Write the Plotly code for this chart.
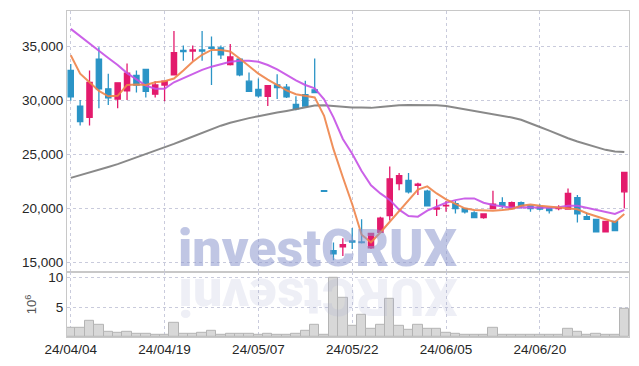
import plotly.graph_objects as go

dates = ["24/04/04","24/04/05","24/04/08","24/04/09","24/04/11","24/04/12","24/04/15","24/04/16","24/04/17","24/04/18",
         "24/04/19","24/04/22","24/04/23","24/04/24","24/04/25","24/04/26","24/04/29","24/04/30","24/05/02","24/05/03",
         "24/05/07","24/05/08","24/05/09","24/05/10","24/05/13","24/05/14","24/05/16","24/05/17","24/05/20","24/05/21",
         "24/05/22","24/05/23","24/05/24","24/05/27","24/05/28","24/05/29","24/05/30","24/05/31","24/06/03","24/06/04",
         "24/06/05","24/06/07","24/06/10","24/06/11","24/06/12","24/06/13","24/06/14","24/06/17","24/06/18","24/06/19",
         "24/06/20","24/06/21","24/06/24","24/06/25","24/06/26","24/06/27","24/06/28","24/07/01","24/07/02","24/07/03"]

open_ = [32800,29500,28450,33850,31100,30150,30900,32350,32900,30600,
         31450,32400,34650,34600,34700,34950,34900,33350,33850,31800,
         31050,30400,31450,31250,29650,30550,31000,21650,16100,16450,
         17000,16900,16350,17800,19350,22300,22600,22150,21600,19950,
         20250,20450,20000,19600,19150,20000,20550,20000,20550,20250,
         20150,20000,20000,19950,21000,19250,19000,17850,18800,21550]
high = [33400,30050,32800,34950,32500,31700,33450,32800,32900,31800,
        31850,36450,35100,35100,36450,35950,35100,35250,33850,32600,
        32050,31400,32450,31550,30400,31850,33900,21650,16850,17250,
        18200,19000,17700,19250,23900,23300,23300,22400,21750,20850,
        20700,20700,20000,19750,19500,21650,21050,20650,20650,20250,
        20400,20000,20300,21850,21250,19600,19000,18850,18800,23350]
low = [30000,27700,27700,29300,29600,29300,30050,30750,30300,30300,
       29950,32400,33700,33700,33700,31450,33850,33250,32250,30850,
       30300,29500,30150,30250,29100,29450,30750,21600,15200,15600,
       16250,16750,16250,17800,18900,21700,21400,21250,20250,19300,
       19700,19550,19550,19150,19050,20000,20000,20000,20000,19700,
       19850,19550,19850,19950,18700,19000,17850,17800,17950,20000]
close = [30350,28050,31700,31100,30250,31650,32550,31450,30850,31450,
         31800,34450,34550,34700,34600,34850,34250,34050,32400,30850,
         30450,31400,31200,30350,29250,29500,30750,21600,15800,16650,
         16900,16850,17700,19100,22750,23050,21550,22250,20250,20050,
         20300,20000,19700,19150,19500,20400,20300,20550,20250,20000,
         19950,19800,20050,21400,19500,19000,17850,18800,17950,23350]

ma_short = [34200,32500,31700,30900,30400,30450,31450,31500,31450,31700,
            31800,32050,32800,33600,34250,34700,34700,34550,33900,33200,
            32500,31950,31450,30950,30600,30450,30300,28600,25500,22900,
            20400,17570,16870,17780,18750,19750,20750,21750,22050,21400,
            20850,20400,20020,19870,19800,19800,19870,19960,20260,20380,
            20260,20170,20080,20020,19930,19560,19250,19010,18730,19500]
ma_mid = [36650,35950,35330,34630,33960,33300,32550,32000,31400,31100,
          31100,31700,32100,32450,32850,33150,33350,33600,33700,33700,
          33600,33300,32900,32380,31870,31450,31140,30130,28450,26450,
          25070,23480,22160,21400,20800,19900,19300,19250,19800,20170,
          20540,20780,20940,20940,20540,20320,20170,20080,20110,20080,
          20080,20080,20110,20260,20260,20080,19870,19680,19500,19870]
ma_long = [22840,23080,23330,23600,23850,24120,24430,24740,25010,25320,
           25650,25990,26330,26670,27000,27370,27680,27950,28200,28380,
           28560,28750,28900,29050,29210,29420,29540,29580,29510,29420,
           29360,29360,29330,29420,29510,29580,29600,29600,29580,29580,
           29510,29360,29240,29090,28930,28750,28600,28440,28230,27920,
           27560,27220,26850,26510,26210,25930,25660,25440,25290,25230]

volume = [1.55,1.55,2.67,2.07,0.9,0.73,0.9,0.57,0.57,0.4,
          0.37,2.4,0.57,0.57,0.73,1.07,0.4,0.57,0.57,0.57,
          0.4,0.57,0.4,0.4,0.57,1.07,2.07,0.3,9.95,6.6,
          1.95,3.7,1.4,2.07,6.4,1.9,1.2,2.07,1.3,1.4,
          0.73,0.57,0.4,0.4,0.4,1.55,0.4,0.3,0.3,0.4,
          0.3,0.3,0.4,1.3,0.9,0.4,0.57,0.4,0.3,4.7]

price_ticks = [15000, 20000, 25000, 30000, 35000]
vol_ticks = [5, 10]
date_ticks = dates[::10]

UP = "#e31a6c"
DOWN = "#2b94c6"
GRID = "#c9cbdc"
AXIS = "#c8c8c8"
FONT = "Liberation Sans"
TICKFONT = dict(family=FONT, size=13.5, color="#262626")

fig = go.Figure()

fig.add_trace(go.Bar(x=dates, y=volume, xaxis="x2", yaxis="y2",
                     marker=dict(color="#d8d8d8", line=dict(color="#b4b4b4", width=1)),
                     showlegend=False, hoverinfo="skip"))

fig.add_trace(go.Candlestick(x=dates, open=open_, high=high, low=low, close=close,
                             increasing=dict(line=dict(color=UP, width=1.3), fillcolor=UP),
                             decreasing=dict(line=dict(color=DOWN, width=1.3), fillcolor=DOWN),
                             whiskerwidth=0, showlegend=False, hoverinfo="skip"))

for vals, col in [(ma_long, "#7d7d7d"), (ma_mid, "#c651e6"), (ma_short, "#ef844a")]:
    fig.add_trace(go.Scatter(x=dates, y=vals, mode="lines",
                             line=dict(color=col, width=2),
                             opacity=0.9, showlegend=False, hoverinfo="skip"))

fig.add_annotation(text="investCRUX", xref="paper", yref="paper", x=0.447, y=0.27,
                   xanchor="center", yanchor="middle", showarrow=False,
                   font=dict(family="Roboto", size=52, color="rgba(140,152,205,0.55)", weight=900))
fig.add_annotation(text="XURCtsevni", xref="paper", yref="paper", x=0.447, y=0.125,
                   xanchor="center", yanchor="middle", showarrow=False, textangle=180,
                   font=dict(family="Roboto", size=52, color="rgba(170,176,210,0.2)", weight=900))

fig.update_layout(
    width=639, height=366,
    margin=dict(l=67, r=9, t=9, b=28),
    paper_bgcolor="white", plot_bgcolor="white",
    boxgap=0.2, bargap=0,
    xaxis=dict(type="category", domain=[0, 1], anchor="y", range=[-0.4, 59.5],
               rangeslider=dict(visible=False), tickmode="array", tickvals=date_ticks,
               showticklabels=False, ticks="", showgrid=True, gridcolor=GRID, griddash="dot", gridwidth=1,
               showline=True, linecolor=AXIS, linewidth=1, mirror=True, zeroline=False),
    xaxis2=dict(type="category", domain=[0, 1], anchor="y2", matches="x",
                tickmode="array", tickvals=date_ticks, ticks="", tickfont=TICKFONT,
                showgrid=True, gridcolor=GRID, griddash="dot", gridwidth=1,
                showline=True, linecolor=AXIS, linewidth=1, mirror=True, zeroline=False),
    yaxis=dict(domain=[0.2, 1], range=[14136, 38309], tickmode="array", tickvals=price_ticks,
               tickformat=",d", ticks="", tickfont=TICKFONT,
               showgrid=True, gridcolor=GRID, griddash="dot", gridwidth=1,
               showline=True, linecolor=AXIS, linewidth=1, mirror=True, zeroline=False),
    yaxis2=dict(domain=[0, 0.2], range=[0, 10.9], tickmode="array", tickvals=vol_ticks,
                ticks="", tickfont=TICKFONT,
                title=dict(text="10<sup>6</sup>", font=dict(family=FONT, size=13, color="#555555"), standoff=8),
                showgrid=True, gridcolor=GRID, griddash="dot", gridwidth=1,
                showline=True, linecolor=AXIS, linewidth=1, mirror=True, zeroline=False),
)

fig.write_html("out.html")
